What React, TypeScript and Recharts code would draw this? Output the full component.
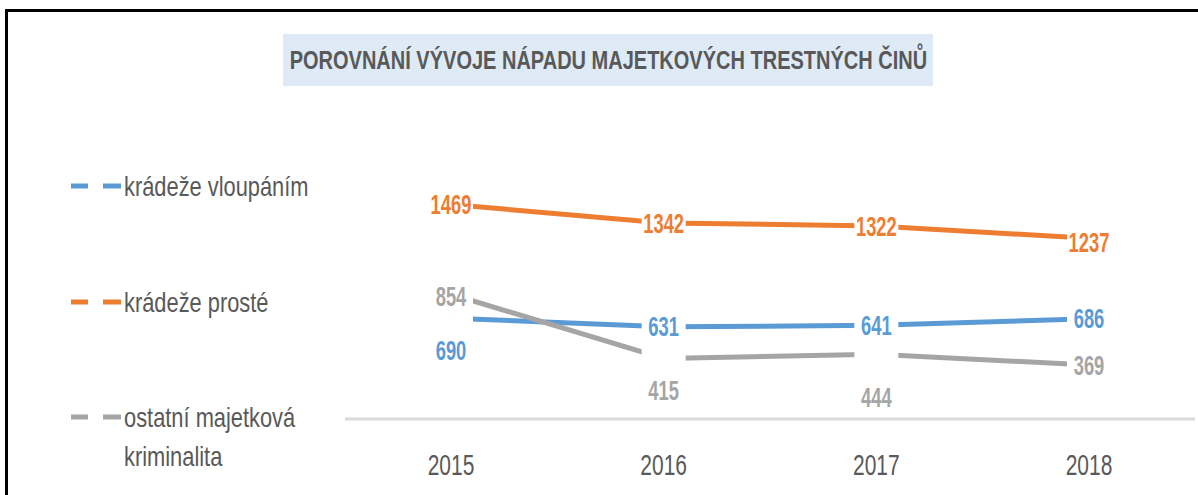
import { LineChart, Line, XAxis, YAxis, LabelList } from 'recharts';

const years = ['2015', '2016', '2017', '2018'];
const vloupanim = [690, 631, 641, 686];
const proste = [1469, 1342, 1322, 1237];
const ostatni = [854, 415, 444, 369];

const data = years.map((year, i) => ({
  year,
  vloupanim: vloupanim[i],
  proste: proste[i],
  ostatni: ostatni[i],
}));

const series = [
  { key: 'vloupanim', name: 'krádeže vloupáním', color: '#5B9BD5' },
  { key: 'proste', name: 'krádeže prosté', color: '#ED7D31' },
  { key: 'ostatni', name: 'ostatní majetková kriminalita', color: '#A5A5A5' },
];

const FONT = '"Liberation Sans", Arial, sans-serif';
const TEXT = '#595959';

// label placement per series (shift from point, white box height)
const labelStyle: Record<string, { dy: number[]; boxH: number }> = {
  proste: { dy: [0, 1, 1, 4], boxH: 30 },
  vloupanim: { dy: [32, 0, 0, 0], boxH: 70 },
  ostatni: { dy: [2, 32, 43, 1], boxH: 30 },
};

const makeLabel = (key: string, color: string) => (props: any) => {
  const { x, y, value, index } = props;
  const st = labelStyle[key];
  const cy = y + st.dy[index];
  return (
    <g>
      <rect x={x - 22} y={cy - st.boxH / 2} width={44} height={st.boxH} fill="#fff" />
      <g transform={`translate(${x},${cy}) scale(0.68,1)`}>
        <text
          x={0}
          y={0}
          textAnchor="middle"
          dominantBaseline="central"
          fill={color}
          fontFamily={FONT}
          fontWeight="bold"
          fontSize={27}
        >
          {value}
        </text>
      </g>
    </g>
  );
};

const YearTick = (props: any) => {
  const { x, y, payload } = props;
  return (
    <g transform={`translate(${x},${y + 46}) scale(0.7,1)`}>
      <text x={0} y={0} textAnchor="middle" dominantBaseline="central" fill={TEXT} fontFamily={FONT} fontSize={30}>
        {payload.value}
      </text>
    </g>
  );
};

const legendTop = [186, 302, 417];

export default function App() {
  return (
    <div style={{ position: 'absolute', left: 0, top: 0, width: 1198, height: 495, background: '#fff', overflow: 'hidden' }}>
      <div style={{ position: 'absolute', left: 5, top: 9, width: 1200, height: 500, borderTop: '3px solid #000', borderLeft: '3px solid #000' }} />
      <div
        style={{
          position: 'absolute',
          left: 283,
          top: 34,
          width: 650,
          height: 52,
          background: '#DEEBF7',
          display: 'flex',
          alignItems: 'center',
          justifyContent: 'center',
        }}
      >
        <span
          style={{
            whiteSpace: 'nowrap',
            display: 'inline-block',
            transform: 'scaleX(0.8)',
            fontFamily: FONT,
            fontWeight: 'bold',
            fontSize: 25,
            color: TEXT,
          }}
        >
          POROVNÁNÍ VÝVOJE NÁPADU MAJETKOVÝCH TRESTNÝCH ČINŮ
        </span>
      </div>
      {series.map((s, i) => (
        <div key={s.key} style={{ position: 'absolute', left: 70, top: legendTop[i] - 19 }}>
          <svg width={54} height={38} style={{ position: 'absolute', left: 0, top: 0 }}>
            <line x1={1} y1={19} x2={18} y2={19} stroke={s.color} strokeWidth={5} />
            <line x1={33} y1={19} x2={51} y2={19} stroke={s.color} strokeWidth={5} />
          </svg>
          <div
            style={{
              position: 'absolute',
              left: 54,
              top: 0,
              width: 245,
              lineHeight: '39px',
              fontFamily: FONT,
              fontSize: 28,
              color: TEXT,
              transform: 'scaleX(0.78)',
              transformOrigin: 'left top',
            }}
          >
            {s.name}
          </div>
        </div>
      ))}
      <div style={{ position: 'absolute', left: 0, top: 0 }}>
        <LineChart width={1198} height={495} data={data} margin={{ top: 159, right: 3, left: 345, bottom: 36 }}>
          <XAxis
            dataKey="year"
            height={40}
            padding={{ left: 106, right: 106 }}
            axisLine={{ stroke: '#D9D9D9', strokeWidth: 3 }}
            tickLine={false}
            tickSize={0}
            tickMargin={0}
            tick={<YearTick />}
            interval={0}
          />
          <YAxis hide domain={[0, 1780]} />
          <Line dataKey="vloupanim" stroke="#5B9BD5" strokeWidth={5} dot={false} isAnimationActive={false} />
          <Line dataKey="ostatni" stroke="#A5A5A5" strokeWidth={5} dot={false} isAnimationActive={false} />
          <Line dataKey="proste" stroke="#ED7D31" strokeWidth={5} dot={false} isAnimationActive={false} />
          {series.map((s) => (
            <Line
              key={'lbl-' + s.key}
              dataKey={s.key}
              stroke="none"
              dot={false}
              activeDot={false}
              isAnimationActive={false}
            >
              <LabelList dataKey={s.key} content={makeLabel(s.key, s.color)} />
            </Line>
          ))}
        </LineChart>
      </div>
    </div>
  );
}
